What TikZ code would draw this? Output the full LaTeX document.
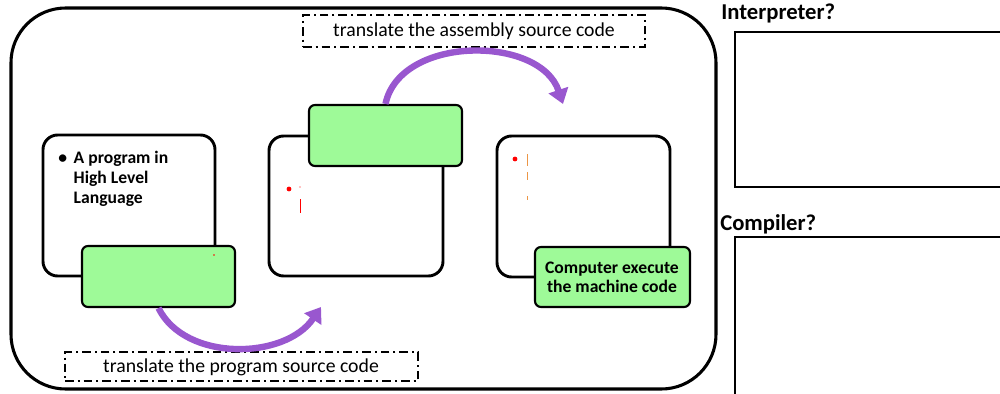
\documentclass[tikz,border=0pt]{standalone}
\usepackage{fontspec}
\setmainfont{Carlito}
\usetikzlibrary{arrows.meta,fit}
\definecolor{arcpurple}{RGB}{153,87,207}
\definecolor{notegreen}{RGB}{158,250,152}
\definecolor{markorange}{RGB}{236,150,70}
\tikzset{
  frame/.style={draw=black,line width=2.3pt,rounded corners=41pt,inner sep=0pt},
  wbox/.style={draw=black,fill=white,line width=2.2pt,rounded corners=11pt,inner sep=0pt},
  gbox/.style={draw=black,fill=notegreen,line width=1.6pt,rounded corners=4.5pt,inner sep=0pt},
  qbox/.style={draw=black,line width=2.2pt,inner sep=0pt},
  dashbox/.style={draw=black,line width=1.5pt,dash pattern=on 6.5pt off 3pt on 1.5pt off 3pt,inner sep=0pt},
  arc/.style={draw=arcpurple,line width=4.8pt,-{Triangle[length=11pt,width=15pt]}},
  lbl/.style={font=\fontsize{14.8}{16}\selectfont,inner sep=0pt},
  bold/.style={font=\fontsize{13.2}{15}\selectfont\bfseries,inner sep=0pt},
  head/.style={font=\fontsize{17}{19}\selectfont\bfseries,inner sep=0pt,anchor=west},
}
\begin{document}
\begin{tikzpicture}[x=0.75pt,y=-0.75pt]
\useasboundingbox (0,0) rectangle (1000,393);
\clip (0,0) rectangle (1000,393);

% outer frame of the translation chain
\node[frame,fit={(11,8) (716,389)}] (frame) {};

% right-hand answer panels
\node[head] (hint) at (721,13) {Interpreter?};
\node[qbox,fit={(735,32) (1010,187)}] (ibox) {};
\node[head] (hcomp) at (720,224) {Compiler?};
\node[qbox,fit={(735,237) (1010,405)}] (cbox) {};

% stage boxes
\node[wbox,fit={(43,135) (215,276)}] (b1) {};
\node[wbox,fit={(269,136) (443,276)}] (b2) {};
\node[wbox,fit={(497,136) (670,277)}] (b3) {};

% text of the first stage
\node[bold,anchor=north west,align=left] (t1) at (58,149)
  {\begin{tabular}{@{}l@{\hspace{5pt}}l@{}}\textbullet & A program in\\ & High Level\\ & Language\end{tabular}};

% faint marks inside the second and third stage
\fill[red] (289,189) circle (1.8pt);
\fill[red] (300,187) circle (0.5pt);
\draw[red,line width=0.5pt] (300,199) -- (300,213);
\fill[red] (515,159) circle (1.8pt);
\draw[markorange,line width=0.5pt] (527,154) -- (527,166);
\draw[markorange,line width=0.5pt] (527,172) -- (527,180);
\draw[markorange,line width=0.5pt] (527,196) -- (527,200);

% green note boxes
\node[gbox,fit={(82,246) (235,307)}] (g1) {};
\node[gbox,fit={(309,105) (462,166)}] (g2) {};
\node[gbox,fit={(535,247) (690,307)}] (g3) {};
\fill[red] (214,255) circle (0.6pt);
\node[bold,align=center,font=\fontsize{13.2}{14.3}\selectfont\bfseries] (t3) at (612,277) {Computer execute\\the machine code};

% dash-dotted captions
\node[dashbox,fit={(303,15) (645,47)}] (d1) {};
\node[lbl] (l1) at (474,31) {translate the assembly source code};
\node[dashbox,fit={(65,352) (418,381)}] (d2) {};
\node[lbl] (l2) at (241,367) {translate the program source code};

% curved arrows between stages
\coordinate (e1) at (321,307);
\coordinate (e2) at (563,104);
\draw[arc] (g1.south) .. controls (185,362) and (285,360) .. (e1);
\draw[arc] (g2.north) .. controls (400,35) and (540,35) .. (e2);
\end{tikzpicture}
\end{document}
